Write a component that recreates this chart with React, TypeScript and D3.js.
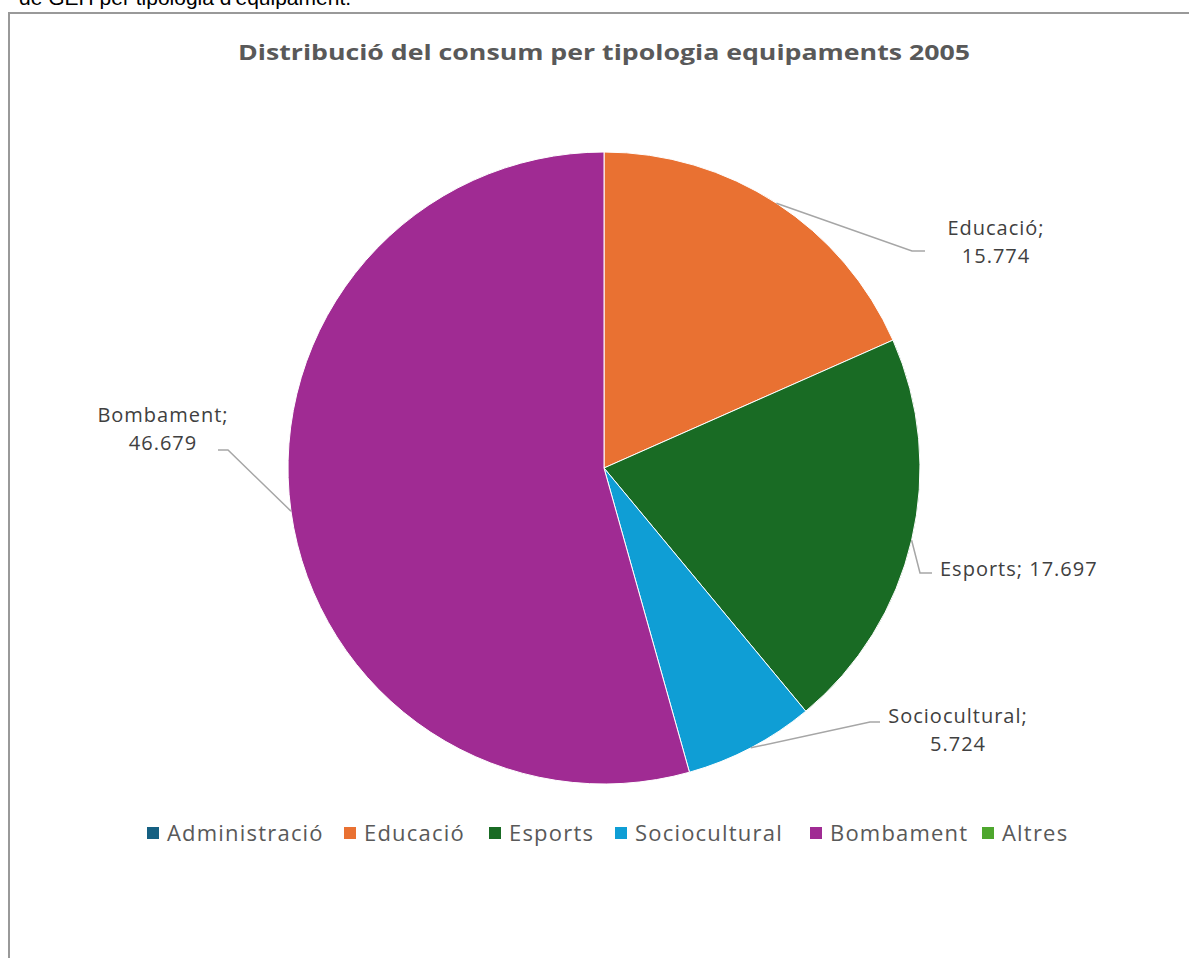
import React from "react";
import * as d3 from "d3";

const categories = ["Administració", "Educació", "Esports", "Sociocultural", "Bombament", "Altres"];
const values = [0, 15.774, 17.697, 5.724, 46.679, 0];
const colors = ["#156082", "#E97132", "#196B24", "#0F9ED5", "#A02B93", "#4EA72E"];
const valueLabels = ["0", "15.774", "17.697", "5.724", "46.679", "0"];
const title = "Distribució del consum per tipologia equipaments 2005";
const headerText = "de GEH per tipologia d'equipament.";

type LabelLayout = { elbow: [number, number]; end: [number, number]; lines: number; tx: number; ty: number; anchor: string };
const labelLayout: Record<string, LabelLayout> = {
  "Educació": { elbow: [912, 251], end: [925, 251], lines: 2, tx: 996, ty: 228, anchor: "middle" },
  "Esports": { elbow: [920, 573], end: [932, 573], lines: 1, tx: 940, ty: 569, anchor: "start" },
  "Sociocultural": { elbow: [870, 722], end: [880, 722], lines: 2, tx: 958, ty: 716, anchor: "middle" },
  "Bombament": { elbow: [228, 450], end: [218, 450], lines: 2, tx: 163, ty: 415, anchor: "middle" },
};

const legendX = [147, 344, 489, 615, 810, 982];

export default function App() {
  const W = 1189, H = 958;
  const cx = 604, cy = 468, r = 316;
  const data = categories.map((c, i) => ({ cat: c, value: values[i], color: colors[i], label: valueLabels[i] }));
  const pie = d3.pie<any>().sort(null).value((d: any) => d.value);
  const arcs = pie(data);
  const arc = d3.arc<any>().innerRadius(0).outerRadius(r);
  const font = "'Open Sans', Roboto, sans-serif";

  return (
    <svg width={W} height={H} style={{ position: "absolute", left: 0, top: 0, background: "#fff" }}>
      <rect x={0} y={0} width={W} height={H} fill="#fff" />
      <text x={19} y={5} fontFamily="'Liberation Sans', Arial, sans-serif" fontSize={21} fill="#000">{headerText}</text>
      <path d={`M9,${H} L9,13 L${W},13`} fill="none" stroke="#999999" strokeWidth={2} />
      <text x={cx} y={60} textAnchor="middle" fontFamily={font} fontWeight={700} fontSize={22} fill="#595959" textLength={732} lengthAdjust="spacingAndGlyphs">{title}</text>
      <g transform={`translate(${cx},${cy})`}>
        {arcs.filter(a => a.value > 0).map((a, i) => (
          <path key={i} d={arc(a) as string} fill={a.data.color} stroke="#fff" strokeWidth={1} />
        ))}
      </g>
      {arcs.filter(a => a.value > 0).map((a, i) => {
        const L = labelLayout[a.data.cat];
        if (!L) return null;
        const mid = (a.startAngle + a.endAngle) / 2;
        const sx = cx + r * Math.sin(mid);
        const sy = cy - r * Math.cos(mid);
        const lines = L.lines === 2 ? [a.data.cat + ";", a.data.label] : [a.data.cat + "; " + a.data.label];
        return (
          <g key={"l" + i}>
            <polyline points={`${sx},${sy} ${L.elbow[0]},${L.elbow[1]} ${L.end[0]},${L.end[1]}`} fill="none" stroke="#A6A6A6" strokeWidth={1.5} />
            {lines.map((t, j) => (
              <text key={j} x={L.tx} y={L.ty + j * 28} dy="0.35em" textAnchor={L.anchor} fontFamily={font} fontSize={20} letterSpacing={1} fill="#404040">{t}</text>
            ))}
          </g>
        );
      })}
      {categories.map((c, i) => (
        <g key={"lg" + i} transform={`translate(${legendX[i]},833)`}>
          <rect x={0} y={-6} width={12} height={12} fill={colors[i]} />
          <text x={20} y={0} dy="0.35em" fontFamily={font} fontSize={22} letterSpacing={1.2} fill="#595959">{c}</text>
        </g>
      ))}
    </svg>
  );
}
